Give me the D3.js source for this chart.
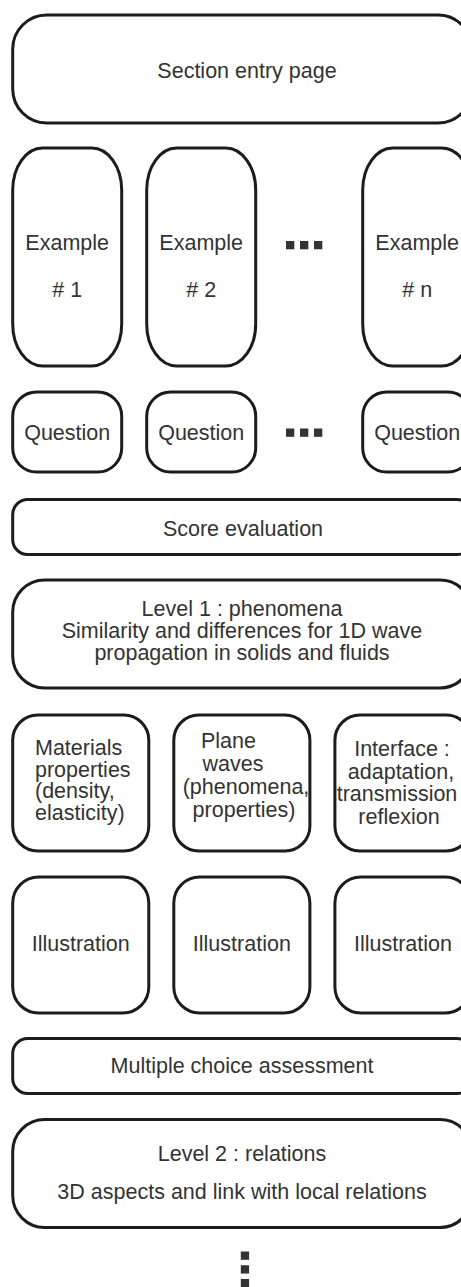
<!DOCTYPE html>
<html>
<head>
<meta charset="utf-8">
<script src="https://cdn.jsdelivr.net/npm/d3@7"></script>
<style>
  html, body { margin: 0; padding: 0; background: #fff; overflow: hidden; }
  svg { display: block; }
  text { font-family: "Liberation Sans", Arial, Helvetica, sans-serif; fill: #333; }
</style>
</head>
<body>
<svg id="chart" width="461" height="1287"></svg>
<script>
// ---- content ----
const sectionLabel = ["Section entry page"];
const exampleLabels = [["Example", "# 1"], ["Example", "# 2"], ["Example", "# n"]];
const questionLabels = ["Question", "Question", "Question"];
const scoreLabel = ["Score evaluation"];
const level1Labels = ["Level 1 : phenomena", "Similarity and differences for 1D wave", "propagation in solids and fluids"];
const topicLabels = [
  ["Materials", "properties", "(density,", "elasticity)"],
  ["Plane", "waves", "(phenomena,", "properties)"],
  ["Interface :", "adaptation,", "transmission", "reflexion"]
];
const illustrationLabels = ["Illustration", "Illustration", "Illustration"];
const assessmentLabel = ["Multiple choice assessment"];
const level2Labels = ["Level 2 : relations", "3D aspects and link with local relations"];

// ---- layout ----
const svg = d3.select("#chart");
const L = 12.7, R = 472;
const stroke = "#1c1c1c", sw = 3, fs = 21.5;

function box(x, y, w, h, rx, ry) {
  svg.append("rect")
    .attr("x", x).attr("y", y).attr("width", w).attr("height", h)
    .attr("rx", rx).attr("ry", ry === undefined ? rx : ry)
    .attr("fill", "none").attr("stroke", stroke).attr("stroke-width", sw);
}
function label(lines, xs, ys, anchor) {
  lines.forEach((t, i) => {
    svg.append("text")
      .attr("x", Array.isArray(xs) ? xs[i] : xs)
      .attr("y", ys[i])
      .attr("text-anchor", anchor || "middle")
      .attr("font-size", fs)
      .text(t);
  });
}

// Section entry
box(L, 15, R - L, 108, 34, 34);
label(sectionLabel, 247, [78]);

// Examples row
const exX = d3.scaleOrdinal().domain([0, 1, 2]).range([12.7, 146.7, 362.7]);
const exW = 109;
exampleLabels.forEach((lines, i) => {
  box(exX(i), 148, exW, 218, 30, 42);
  label(lines, exX(i) + exW / 2, [250, 297]);
});
// Questions row
questionLabels.forEach((t, i) => {
  box(exX(i), 392, exW, 80, 24, 24);
  label([t], exX(i) + exW / 2, [439.5]);
});
// horizontal ellipsis dots
const dotX = d3.scaleLinear().domain([0, 2]).range([286, 314]);
[241, 428.5].forEach(yy => {
  d3.range(3).forEach(k => {
    svg.append("rect").attr("x", dotX(k)).attr("y", yy).attr("width", 8.3).attr("height", 8.3).attr("fill", "#333");
  });
});

// Score evaluation
box(L, 499.5, R - L, 55, 15, 15);
label(scoreLabel, 243, [536]);

// Level 1
box(L, 580, R - L, 108, 32, 32);
label(level1Labels, 242, [615.5, 637.5, 659.5]);

// Topic row
const colX = d3.scaleBand().domain([0, 1, 2]).range([L, 471]).paddingInner(25 / 161);
const cw = colX.bandwidth();
topicLabels.forEach((lines, i) => {
  box(colX(i), 715, cw, 136, 25, 25);
});
label(topicLabels[0], 35, [755, 776.5, 798, 819.5], "start");
label(topicLabels[1], [228.5, 233, 246, 244], [748, 771, 794, 817]);
label(topicLabels[2], [402, 401, 397, 399], [756, 778.5, 801, 823.5]);

// Illustrations
illustrationLabels.forEach((t, i) => {
  box(colX(i), 877, cw, 136, 26, 26);
  label([t], colX(i) + cw / 2, [951]);
});

// Multiple choice
box(L, 1038.5, R - L, 55, 15, 15);
label(assessmentLabel, 242, [1073]);

// Level 2
box(L, 1119.5, R - L, 108, 32, 32);
label(level2Labels, 242, [1160.5, 1198.5]);

// vertical ellipsis
const vdotY = d3.scaleLinear().domain([0, 2]).range([1251.5, 1279]);
d3.range(3).forEach(k => {
  svg.append("rect").attr("x", 240.8).attr("y", vdotY(k)).attr("width", 8.3).attr("height", 8.3).attr("fill", "#333");
});
</script>
</body>
</html>
